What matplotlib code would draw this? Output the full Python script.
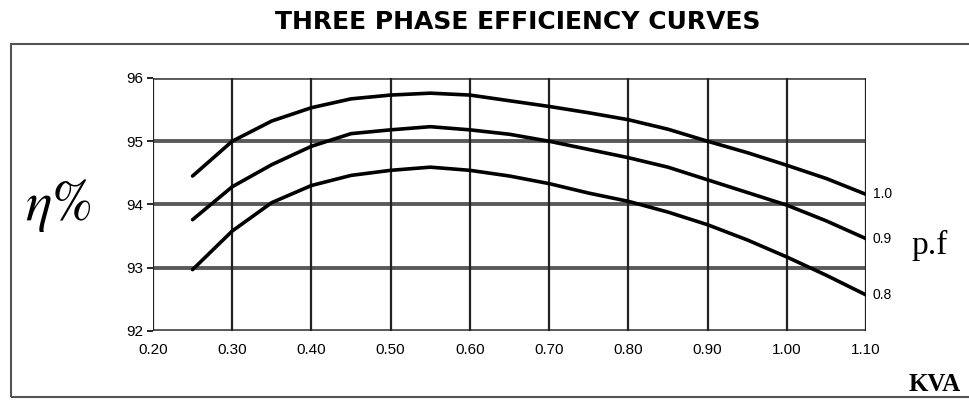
import matplotlib.pyplot as plt
from matplotlib.patches import Rectangle

# data -------------------------------------------------------------------
kva = [0.25, 0.30, 0.35, 0.40, 0.45, 0.50, 0.55, 0.60, 0.65, 0.70,
       0.75, 0.80, 0.85, 0.90, 0.95, 1.00, 1.05, 1.10]
eff_pf10 = [94.45, 95.00, 95.32, 95.53, 95.67, 95.73, 95.76, 95.73, 95.64, 95.55,
            95.45, 95.34, 95.19, 95.00, 94.82, 94.62, 94.41, 94.16]
eff_pf09 = [93.76, 94.28, 94.63, 94.92, 95.12, 95.18, 95.23, 95.18, 95.11, 95.00,
            94.87, 94.74, 94.59, 94.39, 94.19, 93.99, 93.74, 93.46]
eff_pf08 = [92.97, 93.58, 94.03, 94.30, 94.46, 94.54, 94.59, 94.54, 94.45, 94.33,
            94.18, 94.05, 93.88, 93.68, 93.44, 93.17, 92.88, 92.57]
pf_labels = ["1.0", "0.9", "0.8"]
x_ticks = [0.20, 0.30, 0.40, 0.50, 0.60, 0.70, 0.80, 0.90, 1.00, 1.10]
y_ticks = [92, 93, 94, 95, 96]

plt.rcParams['mathtext.fontset'] = 'stix'

fig = plt.figure(figsize=(9.7, 4.03), dpi=100)
ax = fig.add_axes([0.1577, 0.1787, 0.7351, 0.6278])

# outer frame round the whole chart
fig.patches.append(Rectangle((0.011, 0.015), 1.2, 0.876, transform=fig.transFigure,
                             fill=False, edgecolor='#555555', linewidth=1.5))

# grid: grey heavy horizontals, dark verticals
for y in y_ticks:
    ax.axhline(y, color='#5a5a5a', linewidth=2.8, zorder=1)
for x in x_ticks:
    ax.axvline(x, color='#222222', linewidth=1.6, zorder=1)

for series, lab in zip([eff_pf10, eff_pf09, eff_pf08], pf_labels):
    ax.plot(kva, series, color='black', linewidth=2.6, zorder=3,
            solid_joinstyle='round', solid_capstyle='round')
    ax.annotate(lab, xy=(kva[-1], series[-1]), xytext=(5, 0), textcoords='offset points',
                va='center', ha='left', fontsize=10, family='Liberation Sans')

ax.set_xlim(0.20, 1.10)
ax.set_ylim(92, 96)
ax.set_xticks(x_ticks)
ax.set_xticklabels([f"{v:.2f}" for v in x_ticks], family='Liberation Sans', fontsize=11)
ax.set_yticks(y_ticks)
ax.set_yticklabels([str(v) for v in y_ticks], family='Liberation Sans', fontsize=11)
ax.tick_params(axis='x', length=0, pad=9)
ax.tick_params(axis='y', length=4, width=1.2, pad=3)
for s in ax.spines.values():
    s.set_visible(False)

fig.text(0.534, 0.945, "THREE PHASE EFFICIENCY CURVES", ha='center', va='center',
         fontsize=18, fontweight='bold', family='DejaVu Sans')
fig.text(0.060, 0.49, r"$\eta\%$", ha='center', va='center', fontsize=40)
fig.text(0.958, 0.39, "p.f", ha='center', va='center', fontsize=24, family='Liberation Serif')
fig.text(0.937, 0.045, "KVA", ha='left', va='center', fontsize=18, fontweight='bold',
         family='Liberation Serif')

fig.savefig("out.png", dpi=100)
